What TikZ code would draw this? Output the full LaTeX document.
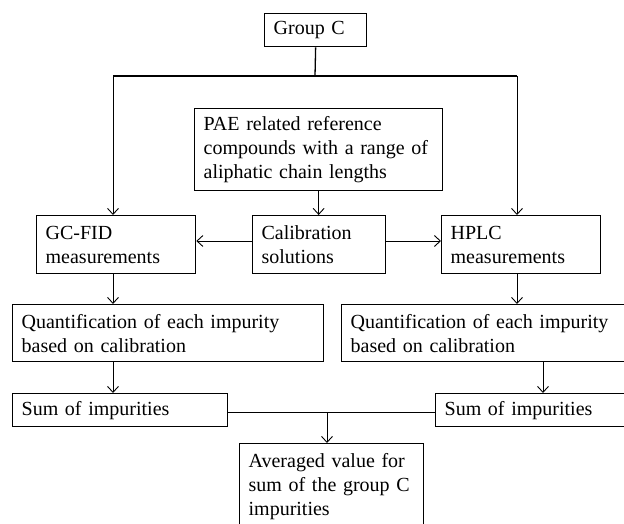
\documentclass[tikz,border=0pt]{standalone}
\usepackage{fontspec}
\setmainfont{Liberation Serif}
\usetikzlibrary{arrows.meta, positioning}
\tikzset{
  flowbox/.style={rectangle, draw, line width=1.3pt, align=left, anchor=north west,
                  inner xsep=9pt, inner ysep=0pt, font=\fontsize{20}{24}\selectfont},
  arrowK/.style={-{Straight Barb[length=6pt, width=11pt]}, line width=0.9pt},
  lineK/.style={line width=0.9pt},
  stemK/.style={line width=1.3pt},
}

\begin{document}
\begin{tikzpicture}[x=1pt, y=-1pt]
    \useasboundingbox (0,0) rectangle (624,524);
    % boxes
    \node[flowbox, text width=84pt,  minimum height=33pt] (grpC)   at (264,13)  {Group C};
    \node[flowbox, text width=230pt, minimum height=82pt] (pae)    at (194,108) {PAE related reference\\compounds with a range of\\aliphatic chain lengths};
    \node[flowbox, text width=141pt, minimum height=58pt] (gcfid)  at (36,215)  {GC-FID\\measurements};
    \node[flowbox, text width=115pt, minimum height=58pt] (cal)    at (252,215) {Calibration\\solutions};
    \node[flowbox, text width=141pt, minimum height=58pt] (hplc)   at (441,215) {HPLC\\measurements};
    \node[flowbox, text width=293pt, minimum height=57pt] (quantL) at (12,304)  {Quantification of each impurity\\based on calibration};
    \node[flowbox, text width=267pt, minimum height=57pt] (quantR) at (341,304) {Quantification of each impurity\\based on calibration};
    \node[flowbox, text width=197pt, minimum height=33pt] (sumL)   at (12,393)  {Sum of impurities};
    \node[flowbox, text width=172pt, minimum height=33pt] (sumR)   at (435,393) {Sum of impurities};
    \node[flowbox, text width=166pt, minimum height=86pt] (avg)    at (239,443) {Averaged value for\\sum of the group C\\impurities};
    % columns of the connectors
    \coordinate (colL)  at (113,0);
    \coordinate (colR)  at (517,0);
    \coordinate (colR2) at (543,0);
    \coordinate (colM)  at (327,0);
    \coordinate (split) at (315,76);
    \coordinate (calY)  at (0,241);
    \coordinate (sumY)  at (0,412);
    % connectors
    \draw[stemK] (grpC.south) -- (split);
    \draw[stemK] (colL |- split) -- (colR |- split);
    \draw[arrowK] (colL |- split) -- (colL |- gcfid.north);
    \draw[arrowK] (colR |- split) -- (colR |- hplc.north);
    \draw[arrowK] (pae.south) -- (pae.south |- cal.north);
    \draw[arrowK] (cal.west |- calY) -- (gcfid.east |- calY);
    \draw[arrowK] (cal.east |- calY) -- (hplc.west |- calY);
    \draw[arrowK] (colL |- gcfid.south) -- (colL |- quantL.north);
    \draw[arrowK] (colR |- hplc.south) -- (colR |- quantR.north);
    \draw[arrowK] (colL |- quantL.south) -- (colL |- sumL.north);
    \draw[arrowK] (colR2 |- quantR.south) -- (colR2 |- sumR.north);
    \draw[lineK] (sumL.east |- sumY) -- (sumR.west |- sumY);
    \draw[arrowK] (colM |- sumY) -- (colM |- avg.north);
\end{tikzpicture}
\end{document}
